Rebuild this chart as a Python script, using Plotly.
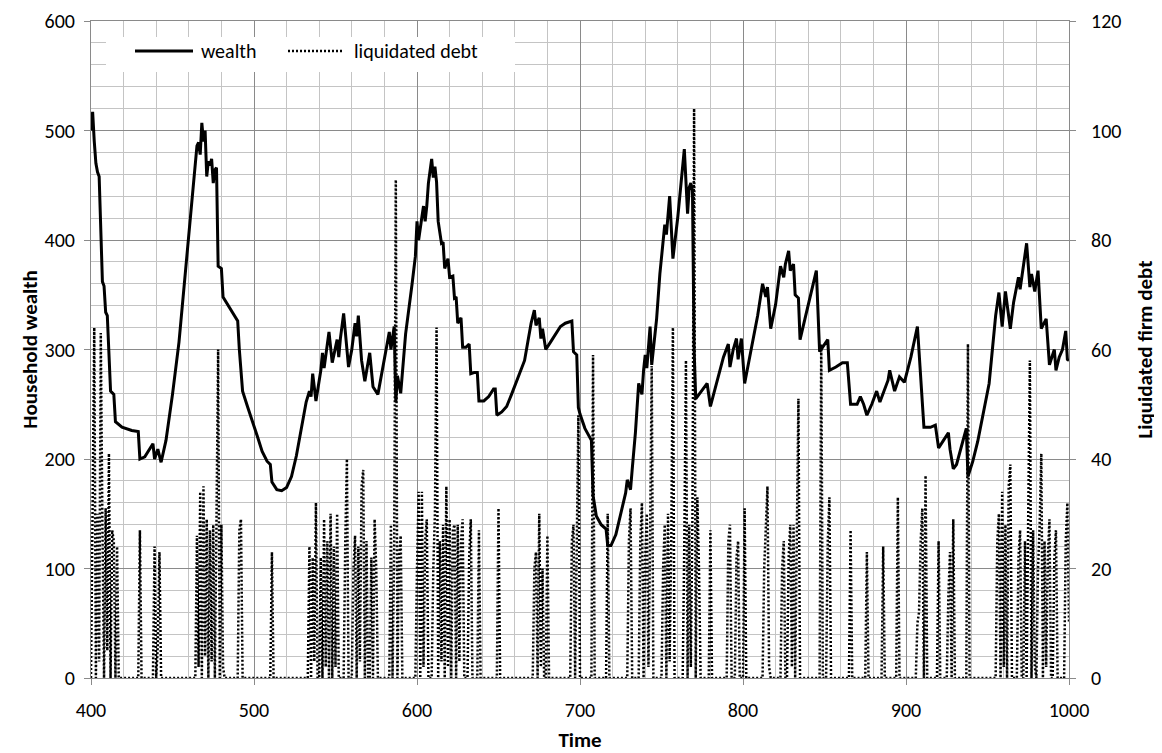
import numpy as np
import plotly.graph_objects as go

# ---- wealth series (time, household wealth) ----
wealth_t = [400, 401, 402, 403, 404, 405, 407, 408, 409, 410, 412, 414, 415, 419, 425, 429, 430, 433, 438, 439,
            441, 443, 446, 450, 454, 458, 462, 465, 466, 467, 468, 469, 470, 471, 472, 473, 474, 475, 476, 477,
            478, 480, 481, 484, 487, 490, 491, 493, 496, 500, 501, 502, 505, 508, 510, 511, 514, 517, 520, 523,
            526, 529, 532, 534, 535, 536, 538, 541, 542, 543, 544, 546, 548, 551, 552, 553, 555, 558, 560, 562,
            563, 564, 566, 568, 571, 573, 576, 580, 583, 584, 586, 587, 588, 590, 593, 597, 599, 600, 601, 603,
            604, 605, 606, 607, 609, 610, 611, 612, 613, 615, 616, 617, 619, 620, 622, 623, 624, 625, 627, 628,
            630, 632, 633, 635, 637, 638, 641, 644, 647, 648, 649, 652, 655, 658, 662, 666, 668, 670, 672, 673,
            675, 676, 677, 679, 682, 685, 688, 691, 695, 696, 698, 699, 700, 703, 707, 708, 710, 713, 716, 717,
            719, 722, 725, 728, 729, 731, 732, 734, 736, 738, 739, 740, 741, 743, 744, 747, 749, 751, 752, 753,
            755, 757, 760, 764, 766, 767, 768, 769, 770, 771, 772, 775, 778, 780, 782, 785, 788, 791, 792, 794,
            796, 797, 799, 801, 805, 809, 812, 814, 815, 817, 820, 823, 825, 826, 828, 829, 831, 832, 834, 835,
            838, 842, 845, 847, 850, 852, 853, 857, 861, 864, 866, 870, 872, 874, 876, 879, 882, 884, 886, 889,
            890, 893, 896, 899, 903, 907, 911, 915, 918, 920, 923, 926, 927, 929, 931, 934, 937, 938, 941, 944,
            947, 951, 953, 955, 957, 959, 961, 963, 964, 966, 969, 970, 971, 974, 976, 977, 979, 981, 983, 986,
            988, 990, 991, 992, 994, 996, 998, 999, 1000]
wealth_v = [500, 517, 490, 470, 462, 458, 362, 358, 334, 331, 262, 259, 234, 229, 226, 225, 200, 202, 214, 200,
            209, 197, 217, 259, 307, 372, 438, 486, 489, 478, 507, 490, 500, 458, 472, 468, 474, 452, 464, 466,
            376, 374, 348, 341, 334, 326, 300, 262, 248, 231, 226, 221, 207, 198, 195, 179, 172, 171, 174, 184,
            203, 228, 252, 262, 257, 278, 253, 281, 297, 283, 293, 316, 288, 309, 293, 310, 333, 284, 300, 324,
            312, 331, 290, 271, 297, 266, 259, 293, 316, 300, 321, 252, 276, 260, 314, 360, 385, 417, 400, 421,
            431, 417, 431, 452, 474, 457, 467, 453, 417, 397, 398, 374, 383, 366, 367, 347, 348, 324, 329, 302,
            302, 305, 278, 279, 279, 253, 253, 257, 264, 264, 240, 243, 248, 259, 274, 290, 307, 324, 336, 322,
            329, 310, 319, 300, 307, 314, 321, 324, 326, 298, 295, 247, 241, 228, 217, 167, 148, 140, 136, 121,
            121, 131, 150, 169, 181, 172, 190, 224, 269, 259, 281, 295, 283, 321, 286, 328, 369, 403, 414, 405,
            440, 383, 421, 483, 424, 448, 452, 445, 300, 255, 257, 264, 269, 248, 259, 278, 293, 305, 284, 300,
            310, 291, 310, 269, 300, 331, 360, 348, 357, 319, 341, 376, 366, 378, 390, 372, 378, 350, 347, 309,
            328, 352, 372, 298, 305, 309, 281, 284, 288, 288, 250, 250, 257, 250, 240, 250, 262, 252, 260, 272,
            281, 262, 275, 270, 293, 321, 229, 229, 231, 210, 217, 224, 209, 191, 195, 212, 228, 184, 198, 216,
            238, 269, 300, 331, 352, 321, 353, 331, 319, 343, 366, 355, 366, 397, 357, 369, 353, 372, 319, 328,
            286, 297, 300, 281, 293, 300, 317, 291, 290]

# ---- liquidated firm debt (listed time steps; all other steps are 0) ----
debt_t = [401, 402, 403, 404, 405, 406, 407, 408, 409, 410, 411, 412, 413, 414, 415, 416,
          430, 439, 440, 441, 442,
          465, 466, 467, 468, 469, 470, 471, 472, 473, 474, 475, 476, 477, 478, 479, 480, 481,
          491, 492, 493, 511,
          534, 535, 536, 537, 538, 539, 541, 542, 543, 544, 545, 546, 547, 548, 549, 550, 551, 552,
          556, 557, 558, 561, 562, 563, 564, 565, 566, 567, 568, 569, 572, 573, 574, 575,
          584, 585, 586, 587, 588, 589, 590,
          600, 601, 602, 603, 604, 605, 606, 607, 610, 611, 612, 613, 614, 615, 616, 617, 618, 619, 620, 621,
          622, 623, 624, 625, 626, 627, 628, 629, 632, 633, 634, 638, 650,
          672, 673, 674, 675, 676, 677, 680,
          695, 696, 697, 698, 699, 708, 717, 730, 731,
          737, 738, 739, 740, 741, 742, 743, 744, 745,
          751, 752, 753, 754, 755, 756, 757, 758,
          764, 765, 766, 767, 768, 769, 770, 771, 772, 773,
          780, 791, 792, 796, 797, 801,
          813, 814, 815, 816,
          824, 825, 826, 828, 829, 830, 831, 832, 833, 834, 835,
          848, 849, 852, 853, 866, 876, 886, 895,
          907, 908, 909, 910, 911, 912, 920, 926, 927, 928, 929, 938,
          956, 957, 958, 959, 960, 961, 962, 963, 964, 965,
          969, 970, 971, 973, 974, 975, 976, 977, 978, 979,
          981, 982, 983, 984, 985, 986, 987, 988, 989, 991, 992, 993, 998, 999, 1000]
debt_v = [29, 64, 0, 30, 3, 63, 28, 0, 31, 5, 41, 0, 27, 25, 0, 24,
          27, 24, 0, 6, 23,
          26, 2, 34, 0, 35, 4, 29, 0, 27, 3, 28, 0, 29, 60, 0, 28, 2,
          27, 29, 0, 23,
          24, 0, 22, 3, 32, 0, 22, 0, 29, 2, 25, 0, 30, 0, 24, 2, 30, 0,
          25, 40, 0, 20, 26, 0, 24, 3, 35, 38, 0, 25, 22, 0, 29, 20,
          28, 0, 24, 91, 0, 22, 26,
          20, 34, 0, 34, 2, 25, 29, 0, 20, 30, 64, 0, 25, 3, 28, 0, 35, 2, 29, 0,
          27, 28, 0, 28, 3, 25, 29, 0, 22, 29, 0, 27, 31,
          20, 23, 0, 30, 2, 20, 26,
          25, 28, 0, 20, 48, 59, 30, 25, 31,
          25, 32, 0, 22, 30, 2, 25, 57, 0,
          20, 28, 0, 30, 3, 25, 64, 0,
          25, 58, 0, 28, 2, 30, 104, 0, 33, 20,
          27, 25, 28, 22, 25, 31,
          20, 27, 35, 2,
          20, 25, 0, 22, 28, 2, 28, 0, 30, 51, 0,
          61, 0, 25, 33, 27, 23, 24, 33,
          10, 12, 25, 31, 0, 37, 25, 15, 23, 0, 29, 61,
          25, 30, 0, 34, 2, 28, 0, 35, 39, 0,
          22, 27, 0, 25, 0, 30, 58, 0, 27, 2,
          20, 28, 41, 0, 25, 2, 22, 29, 0, 22, 27, 0, 25, 32, 10]

time_all = np.arange(400, 1001)
debt_all = np.zeros(len(time_all))
debt_all[np.array(debt_t) - 400] = debt_v

# legend labels
legend_labels = ["wealth", "liquidated debt"]

FONT = "Carlito, Lato, 'Open Sans', sans-serif"
MAJOR = "#8a8a8a"
MINOR = "#c4c4c4"
DOT = "2px,2px"

# the page body has an 8px margin; the figure is sized to fit inside the window
OFF = 8
W, H = 1162 - OFF, 753 - OFF
L, R, T, B = 91 - OFF, 1069 - OFF, 21 - OFF, 678 - OFF

fig = go.Figure()
fig.add_trace(go.Scatter(x=wealth_t, y=wealth_v, mode="lines", name=legend_labels[0],
                         line=dict(color="black", width=3), yaxis="y", showlegend=False))
fig.add_trace(go.Scatter(x=time_all, y=debt_all, mode="lines", name=legend_labels[1],
                         line=dict(color="black", width=2.5, dash=DOT), yaxis="y2", showlegend=False))

def px_x(p):  # screen pixel -> paper fraction
    return (p - OFF - L) / (R - L)
def px_y(p):
    return (B - (p - OFF)) / (B - T)

shapes = [
    dict(type="rect", xref="paper", yref="paper", x0=px_x(106), x1=px_x(515), y0=px_y(72), y1=px_y(37),
         fillcolor="white", line=dict(width=0), layer="above"),
    dict(type="line", xref="paper", yref="paper", x0=px_x(135), x1=px_x(193), y0=px_y(51), y1=px_y(51),
         line=dict(color="black", width=3), layer="above"),
    dict(type="line", xref="paper", yref="paper", x0=px_x(288), x1=px_x(343), y0=px_y(51), y1=px_y(51),
         line=dict(color="black", width=2.5, dash=DOT), layer="above"),
]
annotations = [
    dict(xref="paper", yref="paper", x=px_x(199), y=px_y(51), text=legend_labels[0], showarrow=False,
         xanchor="left", yanchor="middle", font=dict(size=20, color="black")),
    dict(xref="paper", yref="paper", x=px_x(352), y=px_y(51), text=legend_labels[1], showarrow=False,
         xanchor="left", yanchor="middle", font=dict(size=20, color="black")),
]

fig.update_layout(
    width=W, height=H,
    margin=dict(l=L, r=W - R, t=T, b=H - B, autoexpand=False),
    paper_bgcolor="white", plot_bgcolor="white",
    font=dict(family=FONT, size=20, color="black"),
    showlegend=False,
    shapes=shapes, annotations=annotations,
    xaxis=dict(range=[400, 1000], dtick=100, tick0=400, showgrid=True, gridcolor=MAJOR, gridwidth=1,
               minor=dict(dtick=20, showgrid=True, gridcolor=MINOR, gridwidth=1),
               showline=True, linecolor=MAJOR, linewidth=1, mirror=True,
               ticks="outside", ticklen=6, tickcolor=MAJOR, zeroline=False, automargin=False,
               ticklabelstandoff=8, ticklabeloverflow="allow",
               title=dict(text="<b>Time</b>", font=dict(size=21), standoff=13)),
    yaxis=dict(range=[0, 600], dtick=100, showgrid=True, gridcolor=MAJOR, gridwidth=1,
               minor=dict(dtick=20, showgrid=True, gridcolor=MINOR, gridwidth=1),
               showline=True, linecolor=MAJOR, linewidth=1,
               ticks="outside", ticklen=6, tickcolor=MAJOR, zeroline=False, automargin=False,
               ticklabelstandoff=5, ticklabeloverflow="allow",
               title=dict(text="<b>Household wealth</b>", font=dict(size=21), standoff=1)),
    yaxis2=dict(range=[0, 120], dtick=20, overlaying="y", side="right", showgrid=False,
                showline=True, linecolor=MAJOR, linewidth=1,
                ticks="outside", ticklen=6, tickcolor=MAJOR, zeroline=False, automargin=False,
                ticklabelstandoff=11, ticklabeloverflow="allow",
                title=dict(text="<b>Liquidated firm debt</b>", font=dict(size=21), standoff=16)),
)

fig.write_html("out.html")
